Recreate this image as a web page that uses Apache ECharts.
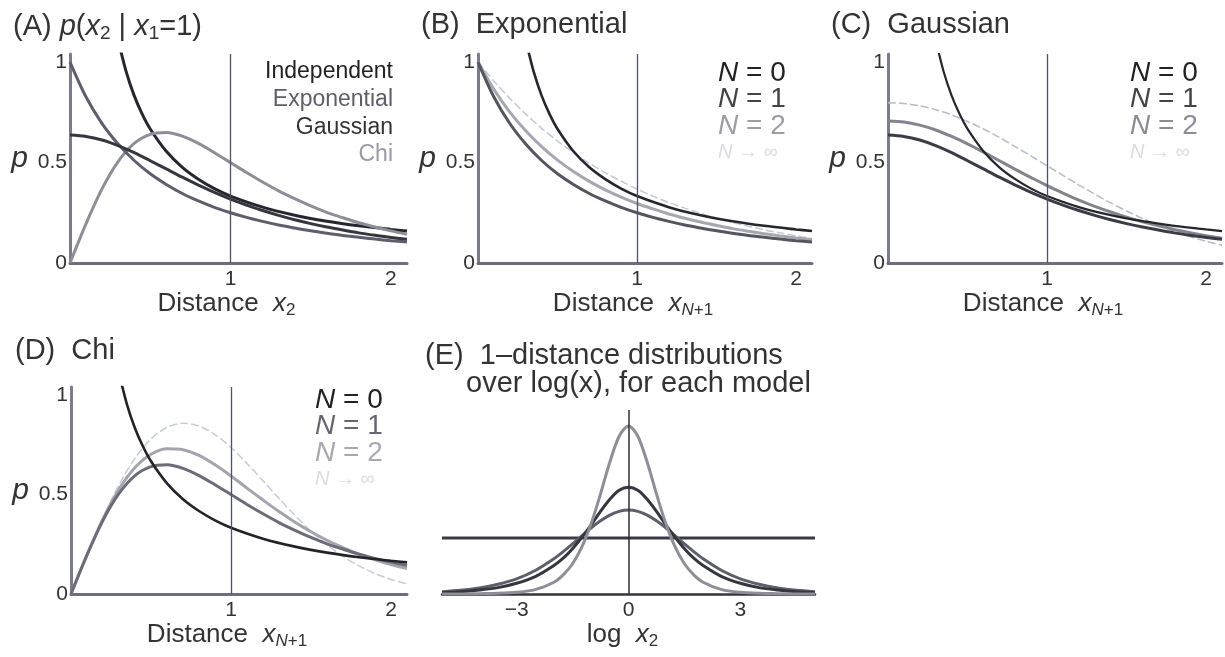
<!DOCTYPE html>
<html>
<head>
<meta charset="utf-8">
<script src="https://cdn.jsdelivr.net/npm/echarts@6/dist/echarts.min.js"></script>
<style>
html, body { margin: 0; padding: 0; background: #fff; }
#chart { width: 1225px; height: 657px; }
</style>
</head>
<body>
<div id="chart"></div>
<script>
// distances for panels A-D
const X = [0, 0.1, 0.2, 0.3, 0.4, 0.5, 0.6, 0.7, 0.8, 0.9, 1.0, 1.1, 1.2, 1.3, 1.4, 1.5, 1.6, 1.7, 1.8, 1.9, 2.0, 2.1]
// the independent / N = 0 curve only comes into the frame near 0.3
const X_N0 = [0.3, 0.35, 0.4, 0.45, 0.5, 0.6, 0.7, 0.8, 0.9, 1.0, 1.2, 1.4, 1.6, 1.8, 2.0, 2.1]
const INDEP = [1.11, 0.952, 0.833, 0.741, 0.667, 0.556, 0.476, 0.417, 0.370, 0.333, 0.278, 0.238, 0.208, 0.185, 0.167, 0.159]

const EXP_N1 = [1.000, 0.826, 0.694, 0.592, 0.510, 0.444, 0.391, 0.346, 0.309, 0.277, 0.250, 0.227, 0.207, 0.189, 0.174, 0.160, 0.148, 0.137, 0.128, 0.119, 0.111, 0.104]
const EXP_N2 = [1.000, 0.864, 0.751, 0.658, 0.579, 0.512, 0.455, 0.406, 0.364, 0.328, 0.296, 0.269, 0.244, 0.223, 0.204, 0.187, 0.171, 0.158, 0.146, 0.135, 0.125, 0.116]
const EXP_INF = [1.000, 0.905, 0.819, 0.741, 0.670, 0.607, 0.549, 0.497, 0.449, 0.407, 0.368, 0.333, 0.301, 0.273, 0.247, 0.223, 0.202, 0.183, 0.165, 0.150, 0.135, 0.122]

const GAU_N1 = [0.637, 0.630, 0.612, 0.584, 0.549, 0.509, 0.468, 0.427, 0.388, 0.352, 0.318, 0.288, 0.261, 0.237, 0.215, 0.196, 0.179, 0.164, 0.150, 0.138, 0.127, 0.118]
const GAU_N2 = [0.707, 0.702, 0.686, 0.662, 0.630, 0.593, 0.552, 0.509, 0.466, 0.425, 0.385, 0.348, 0.313, 0.282, 0.254, 0.228, 0.205, 0.185, 0.167, 0.151, 0.136, 0.123]
const GAU_INF = [0.798, 0.794, 0.782, 0.763, 0.737, 0.704, 0.667, 0.625, 0.579, 0.532, 0.484, 0.436, 0.388, 0.343, 0.299, 0.259, 0.222, 0.188, 0.158, 0.131, 0.108, 0.088]

const CHI_N1 = [0, 0.196, 0.370, 0.505, 0.595, 0.640, 0.649, 0.631, 0.595, 0.549, 0.500, 0.450, 0.403, 0.359, 0.320, 0.284, 0.252, 0.225, 0.200, 0.179, 0.160, 0.143]
const CHI_N2 = [0, 0.197, 0.377, 0.526, 0.635, 0.702, 0.730, 0.725, 0.696, 0.649, 0.593, 0.532, 0.472, 0.414, 0.361, 0.313, 0.270, 0.233, 0.200, 0.172, 0.148, 0.128]
const CHI_INF = [0, 0.198, 0.384, 0.548, 0.682, 0.779, 0.837, 0.858, 0.844, 0.801, 0.736, 0.656, 0.569, 0.480, 0.395, 0.316, 0.247, 0.189, 0.141, 0.103, 0.073, 0.051]

// panel E: one-distance distributions over log x
const LOGX = [-5, -4.5, -4, -3.5, -3, -2.5, -2, -1.75, -1.5, -1.25, -1, -0.75, -0.5, -0.25, 0, 0.25, 0.5, 0.75, 1, 1.25, 1.5, 1.75, 2, 2.5, 3, 3.5, 4, 4.5, 5]
const LOG_EXP = [0.007, 0.011, 0.018, 0.029, 0.045, 0.070, 0.105, 0.126, 0.149, 0.173, 0.197, 0.218, 0.235, 0.246, 0.250, 0.246, 0.235, 0.218, 0.197, 0.173, 0.149, 0.126, 0.105, 0.070, 0.045, 0.029, 0.018, 0.011, 0.007]
const LOG_GAU = [0.004, 0.007, 0.012, 0.019, 0.032, 0.052, 0.085, 0.107, 0.135, 0.169, 0.206, 0.246, 0.282, 0.309, 0.318, 0.309, 0.282, 0.246, 0.206, 0.169, 0.135, 0.107, 0.085, 0.052, 0.032, 0.019, 0.012, 0.007, 0.004]
const LOG_CHI = [0.000, 0.000, 0.001, 0.002, 0.005, 0.013, 0.035, 0.057, 0.090, 0.140, 0.210, 0.298, 0.393, 0.470, 0.500, 0.470, 0.393, 0.298, 0.210, 0.140, 0.090, 0.057, 0.035, 0.013, 0.005, 0.002, 0.001, 0.000, 0.000]
const LOGX_ENDS = [-5, 5]
const LOG_INDEP = [0.167, 0.167]

const X1_OBS = 1
const X_TICKS = [1, 2]
const Y_TICKS = [0, 0.5, 1]
const E_TICKS = [-3, 0, 3]
const MODELS = ['Independent', 'Exponential', 'Gaussian', 'Chi']
const N_LABELS = ['0', '1', '2', '\u221e']

const FONT = "'Liberation Sans', Arial, sans-serif"
const INK = '#333'

const chart = echarts.init(document.getElementById('chart'))

const pairs = (xs, ys) => xs.map((x, i) => [x, ys[i]])

const rich = {
	i: { fontStyle: 'italic', fontSize: 26, fontFamily: FONT, color: INK },
	s: { fontSize: 17, fontFamily: FONT, color: INK, verticalAlign: 'bottom', padding: [12, 0, 0, 0] },
	si: { fontSize: 17, fontStyle: 'italic', fontFamily: FONT, color: INK, verticalAlign: 'bottom', padding: [12, 0, 0, 0] },
}

const line = (g, data, color, width, type) => ({
	type: 'line',
	xAxisIndex: g,
	yAxisIndex: g,
	data,
	showSymbol: false,
	smooth: 0.3,
	silent: true,
	lineStyle: { color, width, type: type || 'solid' },
})

const refLine = (value) => ({
	silent: true,
	symbol: 'none',
	label: { show: false },
	lineStyle: { color: '#4e5466', width: 1.3, type: 'solid' },
	data: [{ xAxis: value }],
})

const grids = [
	{ left: 70, top: 54, width: 337, height: 209 },
	{ left: 478, top: 54, width: 334, height: 209 },
	{ left: 888, top: 54, width: 337, height: 209 },
	{ left: 71, top: 387, width: 336, height: 207 },
	{ left: 442, top: 410, width: 373, height: 184 },
]

const distAxis = (g, sub) => ({
	gridIndex: g,
	type: 'value',
	min: 0,
	max: 2.1,
	interval: 1,
	axisLine: { show: true, onZero: false, lineStyle: { color: '#6c6e7c', width: 3 } },
	axisTick: { show: false },
	splitLine: { show: false },
	axisLabel: {
		formatter: (v) => (X_TICKS.includes(v) ? String(v) : ''),
		color: INK, fontSize: 21, fontFamily: FONT, margin: 6,
	},
	name: 'Distance  {i|x}' + sub,
	nameLocation: 'middle',
	nameGap: 23,
	nameTextStyle: { fontSize: 26, fontFamily: FONT, color: INK, padding: [0, 24, 0, 0], rich },
})

const pAxis = (g) => ({
	gridIndex: g,
	type: 'value',
	min: 0,
	max: 1.04,
	interval: 0.5,
	axisLine: { show: true, lineStyle: { color: '#7a7c8a', width: 3 } },
	axisTick: { show: false },
	splitLine: { show: false },
	axisLabel: {
		formatter: (v) => (Y_TICKS.includes(v) ? String(v) : ''),
		color: INK, fontSize: 21, fontFamily: FONT, margin: 3,
	},
	name: 'p',
	nameLocation: 'middle',
	nameRotate: 0,
	nameGap: 42,
	nameTextStyle: { fontSize: 30, fontStyle: 'italic', fontFamily: FONT, color: INK },
})

const xAxis = [
	distAxis(0, '{s|2}'),
	distAxis(1, '{si|N}{s|+1}'),
	distAxis(2, '{si|N}{s|+1}'),
	distAxis(3, '{si|N}{s|+1}'),
	{
		gridIndex: 4,
		type: 'value',
		min: -5,
		max: 5,
		interval: 1,
		axisLine: { show: true, onZero: false, lineStyle: { color: '#34343c', width: 2.5 } },
		axisTick: { show: false },
		splitLine: { show: false },
		axisLabel: {
			formatter: (v) => (E_TICKS.includes(v) ? (v < 0 ? '\u2212' + Math.abs(v) : String(v)) : ''),
			color: INK, fontSize: 21, fontFamily: FONT, margin: 6,
		},
		name: 'log  {i|x}{s|2}',
		nameLocation: 'middle',
		nameGap: 26,
		nameTextStyle: { fontSize: 26, fontFamily: FONT, color: INK, padding: [0, 12, 0, 0], rich },
	},
]

const yAxis = [
	pAxis(0), pAxis(1), pAxis(2), pAxis(3),
	{ gridIndex: 4, type: 'value', min: 0, max: 0.548, show: false },
]

const series = [
	// A
	Object.assign(line(0, pairs(X_N0, INDEP), '#26262e', 3), { markLine: refLine(X1_OBS) }),
	line(0, pairs(X, CHI_N1), '#8e8e98', 3),
	line(0, pairs(X, EXP_N1), '#5e5e6c', 3),
	line(0, pairs(X, GAU_N1), '#36363f', 3),
	// B
	Object.assign(line(1, pairs(X, EXP_INF), '#c4c8d4', 1.5, [8, 3]), { markLine: refLine(X1_OBS) }),
	line(1, pairs(X, EXP_N2), '#a6a7b0', 3),
	line(1, pairs(X, EXP_N1), '#55555f', 3),
	line(1, pairs(X_N0, INDEP), '#26262e', 2.6),
	// C
	Object.assign(line(2, pairs(X, GAU_INF), '#b8bcc8', 1.5, [8, 3]), { markLine: refLine(X1_OBS) }),
	line(2, pairs(X, GAU_N2), '#84848e', 3),
	line(2, pairs(X, GAU_N1), '#3c3c46', 3),
	line(2, pairs(X_N0, INDEP), '#26262e', 2.2),
	// D
	Object.assign(line(3, pairs(X, CHI_INF), '#c8ccd6', 1.5, [8, 3]), { markLine: refLine(X1_OBS) }),
	line(3, pairs(X, CHI_N2), '#a4a4ae', 3),
	line(3, pairs(X, CHI_N1), '#6c6c78', 3),
	line(3, pairs(X_N0, INDEP), '#222228', 2.6),
	// E
	Object.assign(line(4, pairs(LOGX_ENDS, LOG_INDEP), '#3a3a44', 3), {
		markLine: Object.assign(refLine(0), { lineStyle: { color: '#2e2e36', width: 1.5, type: 'solid' } }),
	}),
	line(4, pairs(LOGX, LOG_EXP), '#5e5e6c', 3),
	line(4, pairs(LOGX, LOG_GAU), '#36363f', 3),
	line(4, pairs(LOGX, LOG_CHI), '#8e8e98', 3),
]

const titleStyle = { fontSize: 29, fontWeight: 'normal', fontFamily: FONT, color: INK, rich: {
	i: { fontStyle: 'italic', fontSize: 29, fontFamily: FONT, color: INK },
	s: { fontSize: 19, fontFamily: FONT, color: INK, verticalAlign: 'bottom', padding: [14, 0, 0, 0] },
} }

const title = [
	{ left: 8, top: 5, text: '(A) {i|p}({i|x}{s|2} | {i|x}{s|1}=1)', textStyle: titleStyle },
	{ left: 416, top: 5, text: '(B)  Exponential', textStyle: titleStyle },
	{ left: 826, top: 5, text: '(C)  Gaussian', textStyle: titleStyle },
	{ left: 10, top: 331, text: '(D)  Chi', textStyle: titleStyle },
	{ left: 420, top: 336, text: '(E)  1\u2013distance distributions', textStyle: titleStyle },
	{ left: 461, top: 364, text: 'over log(x), for each model', textStyle: titleStyle },
]

const modelColors = ['#222', '#5e5e6a', '#333', '#9a9aa4']
const nColors = [
	['#222', '#444', '#9c9ca4', '#dcdde4'],
	['#222', '#444', '#8c8c96', '#dcdde4'],
	['#222', '#666670', '#a8a8b0', '#dcdde4'],
]

const graphic = []
MODELS.forEach((m, i) => {
	graphic.push({
		type: 'text', x: 393, y: 72 + i * 27.7, silent: true,
		style: { text: m, fill: modelColors[i], fontSize: 23, fontFamily: FONT, align: 'right', verticalAlign: 'middle' },
	})
})
const nAnchors = [[718, 73], [1130, 73], [315, 400]]
nAnchors.forEach(([x0, y0], p) => {
	N_LABELS.forEach((n, i) => {
		const last = i === N_LABELS.length - 1
		const size = last ? 20 : 28
		graphic.push({
			type: 'text', x: x0, y: y0 + i * 26.5, silent: true,
			style: {
				text: last ? '{i|N} \u2192 ' + n : '{i|N} = ' + n,
				fill: nColors[p][i],
				fontSize: size,
				fontFamily: FONT,
				align: 'left',
				verticalAlign: 'middle',
				rich: { i: { fontStyle: 'italic', fontSize: size, fontFamily: FONT, fill: nColors[p][i] } },
			},
		})
	})
})

chart.setOption({
	animation: false,
	backgroundColor: '#fff',
	title,
	grid: grids,
	xAxis,
	yAxis,
	series,
	graphic,
})
</script>
</body>
</html>
